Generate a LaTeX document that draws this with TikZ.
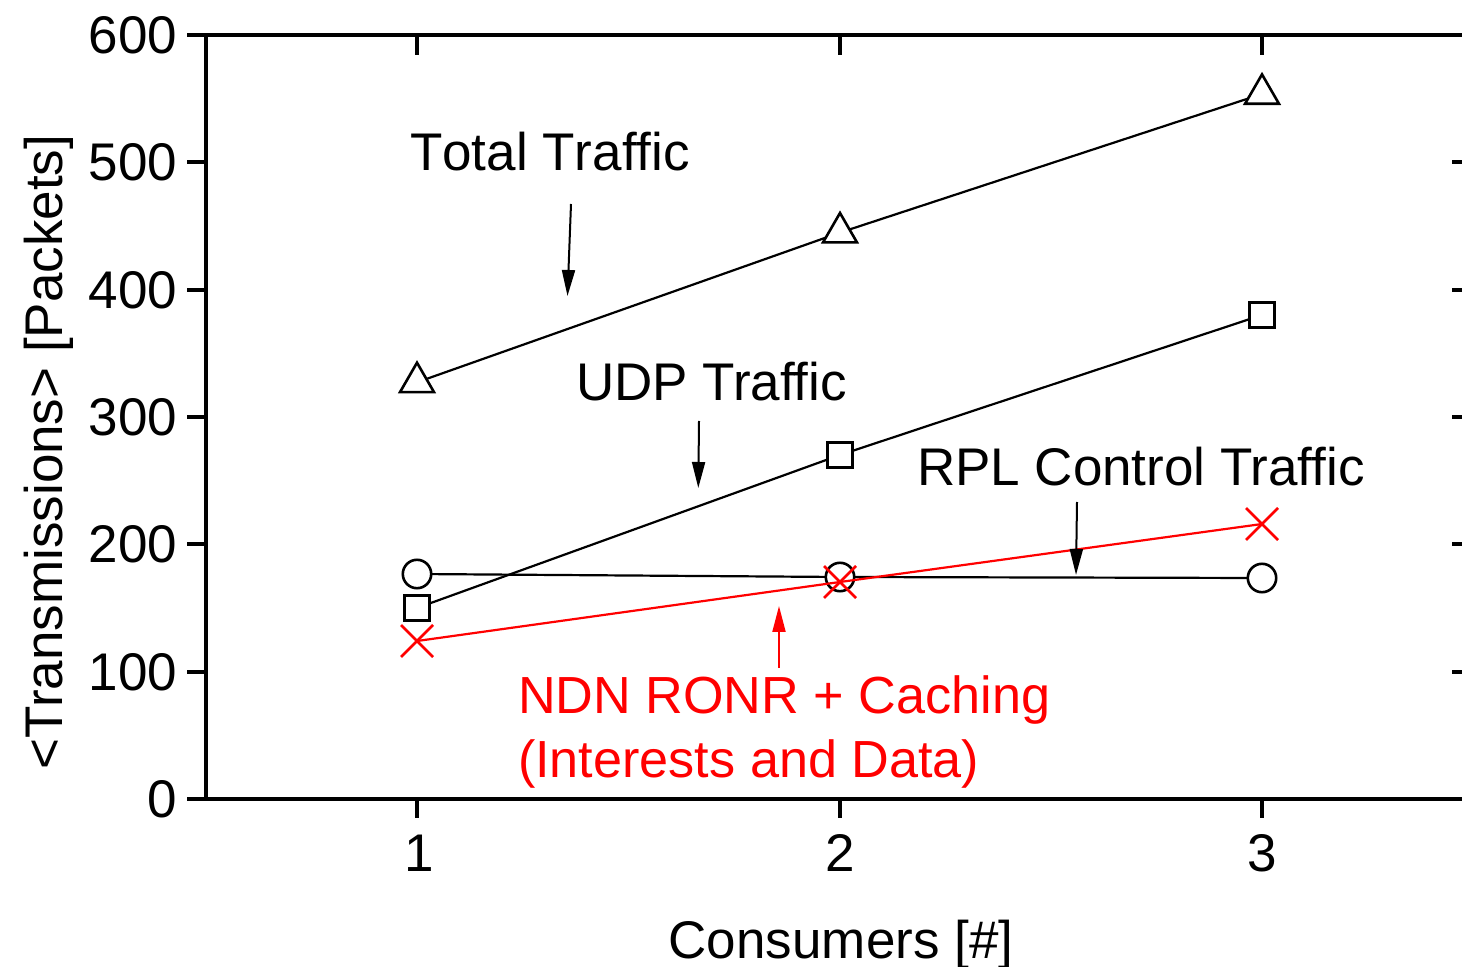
\documentclass[tikz,border=0pt]{standalone}
\usepackage{fontspec}
\setmainfont{Liberation Sans}
\usetikzlibrary{arrows.meta,shapes.geometric,shapes.misc}
\begin{document}
\begin{tikzpicture}[x=0.5pt,y=-0.5pt,
  every node/.style={inner sep=0pt,outer sep=0pt,font=\fontsize{26.5pt}{35pt}\selectfont},
  axisline/.style={line width=2pt},
  tickline/.style={line width=2pt},
  series/.style={line width=1.1pt},
  tri/.style={regular polygon,regular polygon sides=3,minimum size=19.6pt,draw,line width=1.3pt},
  sqr/.style={rectangle,minimum size=12.3pt,draw,line width=1.3pt},
  circ/.style={circle,minimum size=14.2pt,draw,line width=1.3pt},
  xmark/.style={cross out,minimum size=16pt,draw=red,line width=1.3pt},
  annot/.style={-{Triangle[length=13pt,width=6.5pt]},line width=1pt},
  redlabel/.style={anchor=base west,text=red,font=\fontsize{26.1pt}{35pt}\selectfont},
]
\useasboundingbox (0,0) rectangle (1462,967);

% axes
\draw[axisline] (187,35) -- (1462,35);
\draw[axisline] (187,799) -- (1462,799);
\draw[axisline] (206,34) -- (206,800);

% ticks
\foreach \v [evaluate=\v as \yy using 799-127.33*\v] in {1,...,5} {
  \draw[tickline] (187,\yy) -- (206,\yy);
  \draw[tickline] (1452,\yy) -- (1462,\yy);
}
\foreach \xx in {417,840,1262} {
  \draw[tickline] (\xx,35) -- (\xx,55);
  \draw[tickline] (\xx,799) -- (\xx,818);
}

% tick labels
\foreach \v/\lab [evaluate=\v as \yy using 817.5-127.33*\v] in {0/0,1/100,2/200,3/300,4/400,5/500,6/600} {
  \node[anchor=base east] (yl\v) at (177,\yy) {\lab};
}
\node[anchor=base] (xl1) at (419,871) {1};
\node[anchor=base] (xl2) at (840,871) {2};
\node[anchor=base] (xl3) at (1262,871) {3};

% axis titles
\node[anchor=base] (xtitle) at (841,958) {Consumers [\#]};
\node[anchor=base,rotate=90] (ytitle) at (62,452) {<Transmissions> [Packets]};

% markers
\node[tri] (T1) at (417,382.3) {};
\node[tri] (T2) at (840,232.6) {};
\node[tri] (T3) at (1262,94) {};
\node[sqr] (S1) at (417,608) {};
\node[sqr] (S2) at (840,455) {};
\node[sqr] (S3) at (1262,315) {};
\node[circ] (C1) at (417,574) {};
\node[circ] (C2) at (840,577) {};
\node[circ] (C3) at (1262,578) {};
\node[xmark] (X1) at (417,641) {};
\node[xmark] (X2) at (840,582) {};
\node[xmark] (X3) at (1262,524) {};

% series lines
\draw[series] (T1) -- (T2) (T2) -- (T3);
\draw[series] (S1) -- (S2) (S2) -- (S3);
\draw[series] (C1) -- (C2) (C2) -- (C3);
\draw[series,red] (X1.center) -- (X2.center) -- (X3.center);

% annotations
\node[anchor=base west] (ltotal) at (410,171) {\addfontfeature{Kerning=Off}Total Traffic};
\node[anchor=base west] (ludp) at (576,401) {UDP Traffic};
\node[anchor=base west] (lrpl) at (917,486) {RPL Control Traffic};
\node[redlabel] (lndn1) at (518,713) {NDN RONR + Caching};
\node[redlabel] (lndn2) at (518,777) {(Interests and Data)};

\coordinate (aT0) at (571,204);
\coordinate (aT1) at (567.5,296);
\coordinate (aU0) at (699,421);
\coordinate (aU1) at (698.3,488);
\coordinate (aR0) at (1077,502);
\coordinate (aR1) at (1076,575);
\coordinate (aN0) at (779,668);
\coordinate (aN1) at (779,606);
\draw[annot] (aT0) -- (aT1);
\draw[annot] (aU0) -- (aU1);
\draw[annot] (aR0) -- (aR1);
\draw[annot,red] (aN0) -- (aN1);
\end{tikzpicture}
\end{document}
